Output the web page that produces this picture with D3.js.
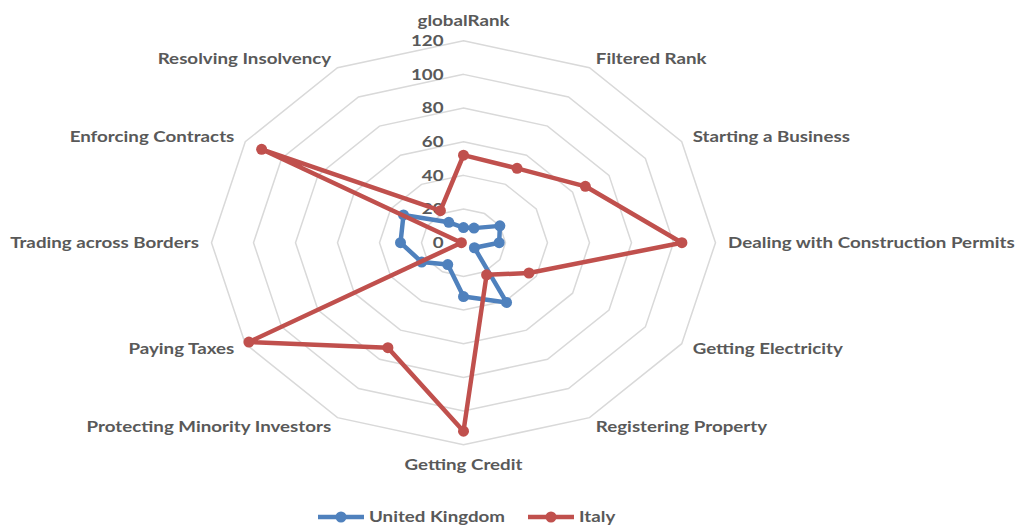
<!DOCTYPE html>
<html>
<head>
<meta charset="utf-8">
<script src="https://cdn.jsdelivr.net/npm/d3@7"></script>
<style>
  body { margin: 0; background: #fff; }
  text { font-family: Lato, "Open Sans", sans-serif; font-weight: bold; fill: #595959; }
</style>
</head>
<body>
<div class="plot"></div>
<script>
// chart values
const categories = ['globalRank', 'Filtered Rank', 'Starting a Business', 'Dealing with Construction Permits',
    'Getting Electricity', 'Registering Property', 'Getting Credit', 'Protecting Minority Investors',
    'Paying Taxes', 'Trading across Borders', 'Enforcing Contracts', 'Resolving Insolvency'];
const ukValues = [9, 10, 20, 17, 6, 41, 32, 15, 23, 30, 33, 14];
const italyValues = [52, 51, 67, 104, 36, 22, 112, 72, 118, 1, 111, 22];
const ticks = [0, 20, 40, 60, 80, 100, 120];
const seriesNames = ['United Kingdom', 'Italy'];

const W = 1016, H = 525;
const cx = 463.5, cy = 242.7;
const colorUK = '#4F81BD', colorIT = '#C0504D';
const stretch = 1.25; // the original is stretched horizontally, text too

const svg = d3.select('.plot')
    .append('svg')
    .attr('width', W)
    .attr('height', H)
    .append('g')
    .attr('transform', `translate(${cx}, ${cy})`);

// the plot area is wider than tall, so x and y radius get their own scales
const rX = d3.scaleLinear().domain([0, 120]).range([0, 252]);
const rY = d3.scaleLinear().domain([0, 120]).range([0, 202]);
const angle = d3.scalePoint().domain(categories.concat(['_end'])).range([0, 2 * Math.PI]);

const px = (c, v) => rX(v) * Math.sin(angle(c));
const py = (c, v) => -rY(v) * Math.cos(angle(c));

// GRID RINGS
const ring = d3.line().curve(d3.curveLinearClosed);
svg.selectAll('.ring')
    .data(ticks.slice(1))
    .enter()
    .append('path')
    .attr('class', 'ring')
    .attr('d', t => ring(categories.map(c => [px(c, t), py(c, t)])))
    .attr('fill', 'none')
    .attr('stroke', '#d9d9d9')
    .attr('stroke-width', 1.5);

// tick labels
svg.selectAll('.tick')
    .data(ticks)
    .enter()
    .append('text')
    .attr('class', 'tick')
    .attr('text-anchor', 'end')
    .attr('transform', t => `translate(-20, ${-rY(t)}) scale(${stretch}, 1)`)
    .attr('dy', '0.35em')
    .attr('font-size', '15px')
    .text(t => t);

// category labels
svg.selectAll('.cat')
    .data(categories)
    .enter()
    .append('text')
    .attr('class', 'cat')
    .attr('text-anchor', c => {
        const s = Math.sin(angle(c));
        return Math.abs(s) < 0.01 ? 'middle' : (s > 0 ? 'start' : 'end');
    })
    .attr('transform', c => {
        const cs = Math.cos(angle(c));
        const extra = Math.abs(Math.sin(angle(c))) < 0.01 ? -10 * cs : 0;
        return `translate(${px(c, 126)}, ${py(c, 126) + extra}) scale(${stretch}, 1)`;
    })
    .attr('dy', '0.35em')
    .attr('font-size', '15px')
    .text(c => c);

// SERIES
const line = d3.line().curve(d3.curveLinearClosed);
const series = [
    { name: seriesNames[0], values: ukValues, color: colorUK },
    { name: seriesNames[1], values: italyValues, color: colorIT }
];

series.forEach(s => {
    const pts = categories.map((c, i) => [px(c, s.values[i]), py(c, s.values[i])]);
    svg.append('path')
        .attr('d', line(pts))
        .attr('fill', 'none')
        .attr('stroke', s.color)
        .attr('stroke-width', 4.5)
        .attr('stroke-linejoin', 'round');
    svg.selectAll(null)
        .data(pts)
        .enter()
        .append('circle')
        .attr('cx', d => d[0])
        .attr('cy', d => d[1])
        .attr('r', 5.5)
        .attr('fill', s.color);
});

// Legend
const legend = d3.select('svg').append('g')
    .attr('transform', 'translate(318, 517)');

const legendX = [0, 210];
series.forEach((s, i) => {
    const g = legend.append('g').attr('transform', `translate(${legendX[i]}, 0)`);
    g.append('line')
        .attr('x1', 0).attr('x2', 46)
        .attr('stroke', s.color)
        .attr('stroke-width', 4.5);
    g.append('circle')
        .attr('cx', 23)
        .attr('r', 5.5)
        .attr('fill', s.color);
    g.append('text')
        .attr('transform', `translate(51, 0) scale(${stretch}, 1)`)
        .attr('dy', '0.35em')
        .attr('font-size', '15px')
        .text(s.name);
});
</script>
</body>
</html>
